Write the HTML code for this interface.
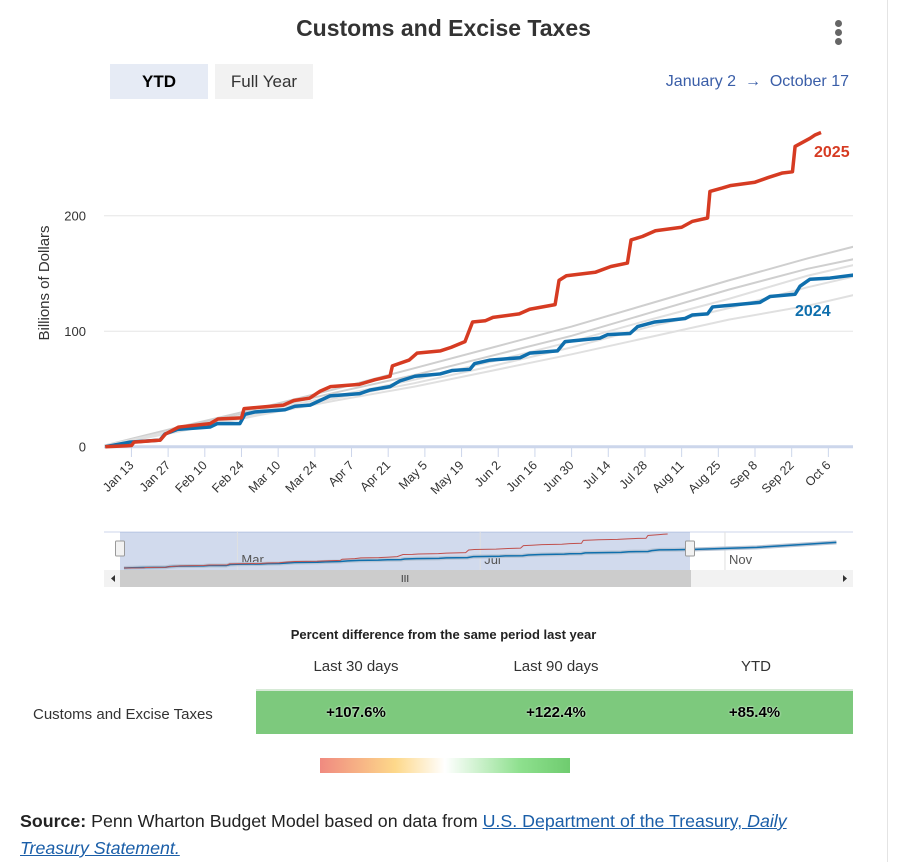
<!DOCTYPE html>
<html><head><meta charset="utf-8"><style>
body{margin:0;width:923px;height:862px;background:#fff;font-family:"Liberation Sans",sans-serif;position:relative;overflow:hidden}
.abs{position:absolute}
</style></head><body>
<div class="abs" style="left:887px;top:0;width:1px;height:862px;background:#e4e4e4"></div>
<div class="abs" style="left:0;width:887px;top:15px;text-align:center;font-size:23px;font-weight:bold;color:#333">Customs and Excise Taxes</div>
<div class="abs" style="left:835px;top:20px;width:8px">
<div style="width:7px;height:7px;border-radius:50%;background:#666;margin-bottom:2px"></div><div style="width:7px;height:7px;border-radius:50%;background:#666;margin-bottom:2px"></div><div style="width:7px;height:7px;border-radius:50%;background:#666"></div></div>
<div class="abs" style="left:110px;top:64px;width:98px;height:35px;background:#e6ebf5;text-align:center;line-height:35px;font-size:17px;font-weight:bold;color:#000">YTD</div>
<div class="abs" style="left:215px;top:64px;width:98px;height:35px;background:#f2f2f2;text-align:center;line-height:35px;font-size:17px;color:#333">Full Year</div>
<div class="abs" style="right:74px;top:73px;font-size:16px;color:#3a5ea8">January 2 &nbsp;→&nbsp; October 17</div>
<svg id="chart" class="abs" style="left:0;top:0" width="923" height="620"><defs><clipPath id="plot"><rect x="104" y="100" width="749" height="352"/></clipPath></defs></svg>
<div class="abs" style="left:0;width:887px;top:627px;text-align:center;font-size:13px;font-weight:bold;color:#222">Percent difference from the same period last year</div>
<div class="abs" style="left:256px;width:200px;top:658px;text-align:center;font-size:15px;color:#333">Last 30 days</div>
<div class="abs" style="left:456px;width:200px;top:658px;text-align:center;font-size:15px;color:#333">Last 90 days</div>
<div class="abs" style="left:656px;width:200px;top:658px;text-align:center;font-size:15px;color:#333">YTD</div>
<div class="abs" style="left:33px;top:706px;font-size:15px;color:#333">Customs and Excise Taxes</div>
<div class="abs" style="left:256px;top:689px;width:597px;height:45px;background:#7dc97d;border-top:2px solid #d6ead6;box-sizing:border-box;font-size:15px;font-weight:bold;color:#000;text-shadow:0 0 2px #fff">
<span class="abs" style="left:0;width:200px;top:13px;text-align:center">+107.6%</span>
<span class="abs" style="left:200px;width:200px;top:13px;text-align:center">+122.4%</span>
<span class="abs" style="left:400px;width:197px;top:13px;text-align:center">+85.4%</span></div>
<div class="abs" style="left:320px;top:758px;width:250px;height:15px;background:linear-gradient(to right,#f08a80,#fdd88a 30%,#fff 50%,#8ee08e 80%,#6fcc6f)"></div>
<div class="abs" style="left:20px;top:808px;font-size:17.8px;line-height:27px;color:#222;width:800px"><b>Source:</b> Penn Wharton Budget Model based on data from <a style="color:#1a5ea8;text-decoration:underline">U.S. Department of the Treasury, <i>Daily Treasury Statement.</i></a></div>
<script>
const tickLabels=["Jan 13","Jan 27","Feb 10","Feb 24","Mar 10","Mar 24","Apr 7","Apr 21","May 5","May 19","Jun 2","Jun 16","Jun 30","Jul 14","Jul 28","Aug 11","Aug 25","Sep 8","Sep 22","Oct 6"];
const tickDays=[12,26,40,54,68,82,96,110,124,138,152,166,180,194,208,222,236,250,264,278];
const yTicks=[0,100,200];
const days2025=[2,12,13,23,25,30,42,45,54,55,70,74,80,84,88,99,105,110.7,111.6,118,121,130,134,139.3,142.2,147,150,160,164,173.7,175.2,178,189,195,201.3,202.7,207,212,222,226,231.9,232.8,237.6,240.5,250,255,260.5,264.3,265.3,271,273,275.2];
const vals2025=[0,1,4,5.7,11,17,20,24,25,33,36,40,42,48,52,54,58,61,70,75,81,83,86,91,108,109,112,115,119,123,144,148,151,156,159,179,182,187,190,195,198,221,224,226,229,233,237,238,260,267,270,272];
const days2024=[2,11.5,22.9,24.8,29.6,42,44.8,53.4,55.3,59,70.6,74.4,80.2,84,87.8,99.2,103,110.7,114.5,120.2,129.8,134.5,141.2,143,148.9,160.3,164,174.6,177.5,190.8,193.7,202.3,205.2,211.8,223.3,226,231.9,233.8,238.5,251.9,255.7,265.3,267.2,271,278.6,289];
const vals2024=[0,4,5.7,11,15,17,20,20,28,30,32,35,36,40,44,46,49,52,57,61,63,66,67,72,75,77,81,83,91,94,97,98,104,108,111,114,115,121,122,125,130,132,139,145,146,149];
const grayDays=[0,30,60,90,120,150,180,210,240,270,289];
const grayA=[0,17,33,50,68,86,104,124,144,163,174];
const grayB=[0,16,31,47,62,79,96,116,136,154,163];
const grayC=[0,15,30,44,58,74,91,110,128,148,158];
const grayD=[0,14,28,42,55,70,86,104,120,138,148];
const grayE=[0,13,27,40,52,66,80,95,110,122,132];
const navMonths=["Mar","Jul","Nov"];
const navMonthDays=[59,181,304];
const navTailDays=[320,340,360];
const navTailVals=[165,185,205];

const NS="http://www.w3.org/2000/svg";
const svg=document.getElementById('chart');
const X=d=>100+d*2.62;
const Y=v=>446.7-v*1.155;
const NX=d=>120+d*1.99;
const NY=v=>568-v*0.125;
function el(t,a,p){const e=document.createElementNS(NS,t);for(const k in a)e.setAttribute(k,a[k]);(p||svg).appendChild(e);return e;}
yTicks.forEach(v=>{
 const g=el('line',{x1:104,x2:853,y1:Y(v),y2:Y(v),stroke:v?'#e6e6e6':'#ccd6eb','stroke-width':v?1:3});
 
 
 const t=el('text',{x:86,y:Y(v)+5,'text-anchor':'end','font-size':13,fill:'#333'});t.textContent=v;
 
 
});
const yt=el('text',{x:0,y:0,transform:'translate(49,283) rotate(-90)','text-anchor':'middle','font-size':15,fill:'#333'});yt.textContent='Billions of Dollars';


tickDays.forEach((d,i)=>{
 const l=el('line',{x1:X(d),x2:X(d),y1:448,y2:457,stroke:'#ccd6eb'});
 
 
 const t=el('text',{x:0,y:0,transform:`translate(${X(d)+3},${466}) rotate(-45)`,'text-anchor':'end','font-size':12.5,fill:'#333'});t.textContent=tickLabels[i];
 
 
});
function line(ds,vs,fx,fy){return ds.map((d,i)=>(i?'L':'M')+fx(d)+','+fy(vs[i])).join('');}
const plotG=el('g',{'clip-path':'url(#plot)'});


const grays=[grayA,grayB,grayC,grayD,grayE];
grays.forEach((g,i)=>{
 const p=el('path',{d:line(grayDays,g,X,Y),fill:'none',stroke:i<2?'#cfcfcf':'#e0e0e0','stroke-width':2},plotG);
 
 
});
const p24=el('path',{d:line(days2024,vals2024,X,Y),fill:'none',stroke:'#0f6fad','stroke-width':3.5,'stroke-linejoin':'round'},plotG);


const p25=el('path',{d:line(days2025,vals2025,X,Y),fill:'none',stroke:'#d63b22','stroke-width':3.5,'stroke-linejoin':'round'},plotG);


const l25=el('text',{x:814,y:157,'font-size':16,'font-weight':'bold',fill:'#d63b22'});l25.textContent='2025';


const l24=el('text',{x:795,y:316,'font-size':16,'font-weight':'bold',fill:'#0f6fad'});l24.textContent='2024';


// navigator
const nb=el('line',{x1:104,x2:853,y1:532,y2:532,stroke:'#ccd6eb'});


const sel=el('rect',{x:120,y:532,width:570,height:38,fill:'rgba(102,133,194,0.3)'});


navMonthDays.forEach((d,i)=>{
 const l=el('line',{x1:NX(d),x2:NX(d),y1:532,y2:570,stroke:'#e0e0e0'});
 
 
 const t=el('text',{x:NX(d)+4,y:564,'font-size':13,fill:'#555'});t.textContent=navMonths[i];
 
 
});
const nd=days2024.concat(navTailDays), nv=vals2024.concat(navTailVals);
const nband=el('path',{d:line(nd,nv,NX,NY),fill:'none',stroke:'#b8c4d4','stroke-width':4});


const n24=el('path',{d:line(nd,nv,NX,NY),fill:'none',stroke:'#0f6fad','stroke-width':1.5});


const n25=el('path',{d:line(days2025,vals2025,NX,NY),fill:'none',stroke:'#c0504d','stroke-width':1});


[120,690].forEach(x=>{
 const h=el('rect',{x:x-4.5,y:541,width:9,height:15,fill:'#f2f2f2',stroke:'#999',rx:1});
 
 
});
const sb=el('rect',{x:104,y:570,width:749,height:17,fill:'#f2f2f2'});


const th=el('rect',{x:120,y:570,width:571,height:17,fill:'#cccccc'});


const tt=el('text',{x:405,y:582,'font-size':10,fill:'#333','text-anchor':'middle'});tt.textContent='III';


const la=el('path',{d:'M115,575L111,578.5L115,582Z',fill:'#333'});


const ra=el('path',{d:'M843,575L847,578.5L843,582Z',fill:'#333'});


</script>
</body></html>
